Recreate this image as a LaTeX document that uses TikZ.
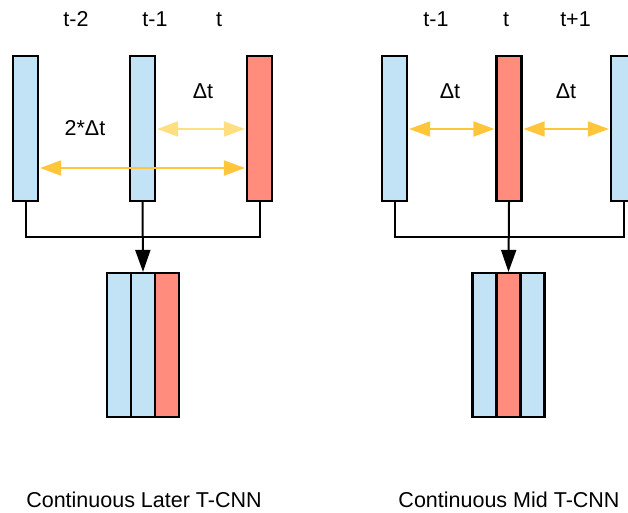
\documentclass[tikz,border=0pt]{standalone}
\usepackage{fontspec}
\setmainfont{Liberation Sans}
\usetikzlibrary{arrows.meta}
\definecolor{frameblue}{HTML}{C2E3F5}
\definecolor{framered}{HTML}{FF8C7C}
\definecolor{gapdark}{HTML}{FFC63C}
\definecolor{gaplight}{HTML}{FFDF80}
\tikzset{
  bar/.style={draw=black, line width=2.2pt, minimum width=25pt, minimum height=145pt, inner sep=0pt},
  strip/.style={draw=black, line width=2.2pt, minimum width=24pt, minimum height=144pt, inner sep=0pt},
  lbl/.style={anchor=base, font=\fontsize{21.5}{24}\selectfont, inner sep=0pt},
  wire/.style={draw=black, line width=2pt},
  feed/.style={wire, -{Triangle[length=22pt,width=15pt]}},
  gap/.style={line width=2pt, {Triangle[length=21pt,width=15pt]}-{Triangle[length=21pt,width=15pt]}, shorten <=1pt, shorten >=1pt}
}
\begin{document}
\begin{tikzpicture}[x=1pt, y=-1pt]
\useasboundingbox (0,0) rectangle (628,512);
\clip (0,0) rectangle (628,512);

% ---- continuous later T-CNN ----
\node[bar, fill=frameblue] (L1) at (25.5,128.5) {};
\node[bar, fill=frameblue] (L2) at (142.5,128.5) {};
\node[bar, fill=framered]  (L3) at (259.5,128.5) {};
\node[lbl] (Lh1) at (76,26) {t-2};
\node[lbl] (Lh2) at (155,26) {t-1};
\node[lbl] (Lh3) at (219,26) {t};

\draw[gap, gaplight] (L2.east |- 0,129) -- (L3.west |- 0,129);
\draw[gap, gapdark]  (L1.east |- 0,168) -- (L3.west |- 0,168);
\node[lbl] (Ld1) at (203,98) {Δt};
\node[lbl] (Ld2) at (85,135) {2*Δt};

\coordinate (Lj) at (142.5,237);
\draw[wire] (L1.south) |- (Lj) -| (L3.south);
\node[strip, fill=frameblue] (LS1) at (119,345) {};
\node[strip, fill=frameblue] (LS2) at (143,345) {};
\node[strip, fill=framered]  (LS3) at (167,345) {};
\draw[feed] (L2.south) -- (LS2.north);
\node[lbl] (Lcap) at (144,507) {Continuous Later T-CNN};

% ---- continuous mid T-CNN ----
\node[bar, fill=frameblue] (R1) at (394.5,128.5) {};
\node[bar, fill=framered]  (R2) at (509,128.5) {};
\node[bar, fill=frameblue] (R3) at (623.5,128.5) {};
\node[lbl] (Rh1) at (436,26) {t-1};
\node[lbl] (Rh2) at (506,26) {t};
\node[lbl] (Rh3) at (575.5,26) {t+1};

\draw[gap, gapdark] (R1.east |- 0,129) -- (R2.west |- 0,129);
\draw[gap, gapdark] (R2.east |- 0,129) -- (R3.west |- 0,129);
\node[lbl] (Rd1) at (450,98) {Δt};
\node[lbl] (Rd2) at (566,98) {Δt};

\coordinate (Rj) at (509,237);
\draw[wire] (R1.south) |- (Rj) -| (R3.south);
\node[strip, fill=frameblue] (RS1) at (484.5,345) {};
\node[strip, fill=framered]  (RS2) at (508.5,345) {};
\node[strip, fill=frameblue] (RS3) at (532.5,345) {};
\draw[feed] (R2.south) -- (RS2.north);
\node[lbl] (Rcap) at (509,507) {Continuous Mid T-CNN};
\end{tikzpicture}
\end{document}
